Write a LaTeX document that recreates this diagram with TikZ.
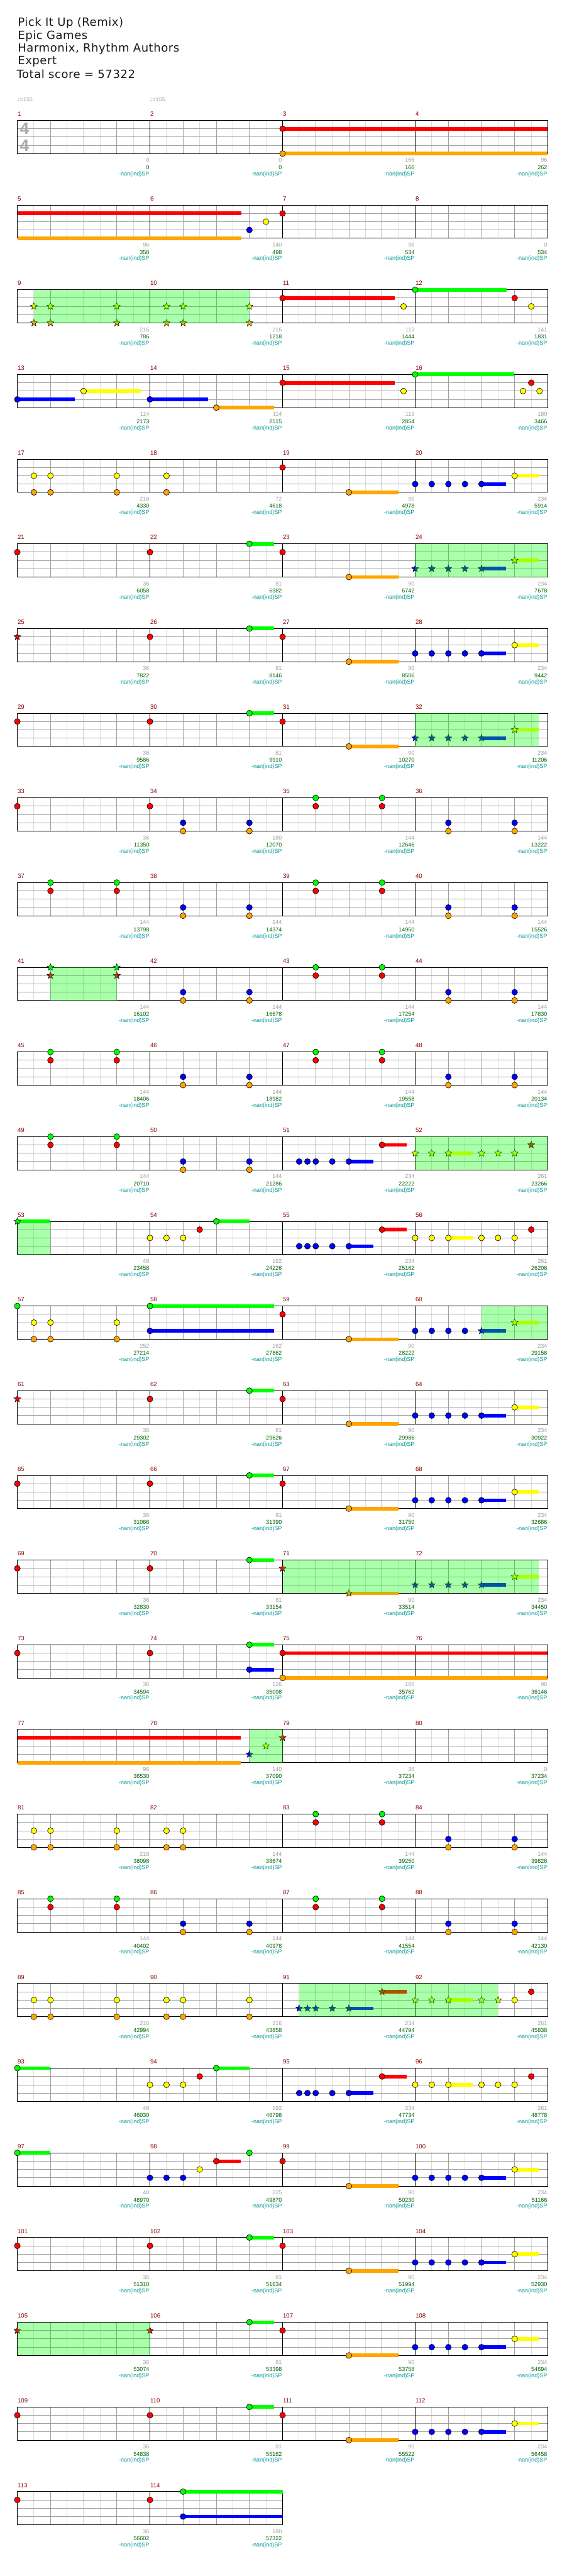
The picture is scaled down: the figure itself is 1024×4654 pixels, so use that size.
\documentclass[tikz,border=0pt]{standalone}
\usepackage{fontspec}
\setmainfont{DejaVu Sans}
\newfontfamily\chartfont{Liberation Sans}
\newfontfamily\symfont{DejaVu Sans}
\newfontfamily\headfont[LetterSpace=3]{DejaVu Sans}
\usetikzlibrary{shapes.geometric}

\definecolor{nG}{RGB}{0,255,0}
\definecolor{nR}{RGB}{255,0,0}
\definecolor{nY}{RGB}{255,255,0}
\definecolor{nB}{RGB}{0,0,255}
\definecolor{nO}{RGB}{255,165,0}
\definecolor{barred}{RGB}{139,0,0}
\definecolor{ptsgray}{RGB}{160,160,160}
\definecolor{totgreen}{RGB}{0,100,0}
\definecolor{spteal}{RGB}{0,150,150}
\definecolor{gridgray}{RGB}{160,160,160}
\definecolor{gridlight}{RGB}{220,220,220}
\definecolor{sigray}{RGB}{170,170,170}

% beat width and lane heights
\def\bw{59.93}
\def\laneG{0}\def\laneR{15}\def\laneY{30}\def\laneB{45}\def\laneO{60}
\newcommand{\lane}[1]{\csname lane#1\endcsname}

\newcommand{\notehead}[2]{\draw[notedot, fill=n#1] ({\bw*#2},\lane{#1}) circle[radius=5.3pt];}
\newcommand{\starhead}[2]{\node[starnote, fill=n#1] at ({\bw*#2},\lane{#1}) {};}
\newcommand{\noteset}[2]{\foreach \p in {#2} {\notehead{#1}{\p}}}
\newcommand{\starset}[2]{\foreach \p in {#2} {\starhead{#1}{\p}}}
\newcommand{\sustain}[3]{\draw[sustainbar, n#1] ({\bw*#2},\lane{#1}) -- ({\bw*#3},\lane{#1});}
\newcommand{\starzone}[2]{\fill[spfill] ({\bw*#1},0) rectangle ({\bw*#2},60);}

% grid, bar numbers and scores of one row
\newcommand{\staff}[3]{%
  \pgfmathtruncatemacro\neighth{8*#2-1}
  \pgfmathtruncatemacro\nbeat{4*#2-1}
  \pgfmathsetmacro\staffend{4*\bw*#2}
  \foreach \e in {1,...,\neighth} \draw[halfline] ({\e*\bw/2},0) -- ({\e*\bw/2},60);
  \foreach \b in {1,...,\nbeat} \draw[beatline] ({\b*\bw},0) -- ({\b*\bw},60);
  \foreach \l in {15,30,45} \draw[beatline] (0,\l) -- (\staffend,\l);
  \foreach \m in {1,...,#2} \draw[barline] ({(\m-1)*4*\bw},0) -- ({(\m-1)*4*\bw},60);
  \draw[barline] (0,0) rectangle (\staffend,60);
  \foreach \pts/\tot [count=\i] in {#3} {
    \pgfmathtruncatemacro\mnum{4*(#1-1)+\i}
    \node[barnum] (bar\mnum) at ({(\i-1)*4*\bw+0.4},-11.5) {\mnum};
    \node[ptsnum] (pts\mnum) at ({\i*4*\bw-1},72) {\pts};
    \node[totnum] (tot\mnum) at ({\i*4*\bw-1},85) {\tot};
    \node[spnum] (sp\mnum) at ({\i*4*\bw-1},97) {-nan(ind)SP};
  }}

\begin{document}
\begin{tikzpicture}[
  x=1pt, y=-1pt,
  rowat/.style={shift={(31.3,{217.5+153*(#1-1)})}},
  titletext/.style={anchor=west, inner sep=0pt, text=black!90, font=\headfont\fontsize{20.5}{20}\selectfont},
  tempo/.style={anchor=west, inner sep=0pt, text=ptsgray, font=\chartfont\fontsize{10.3}{10}\selectfont},
  timesig/.style={inner sep=0pt, text=sigray, font=\chartfont\bfseries\fontsize{30}{30}\selectfont},
  notedot/.style={draw=black, line width=0.7pt},
  starnote/.style={star, star points=5, star point ratio=2.3, minimum size=13pt, inner sep=0pt, draw=black, line width=0.6pt},
  sustainbar/.style={line width=6.6pt},
  spfill/.style={fill=nG, fill opacity=0.333},
  halfline/.style={draw=gridlight, line width=1pt},
  beatline/.style={draw=gridgray, line width=1pt},
  barline/.style={draw=black, line width=1pt},
  barnum/.style={anchor=west, inner sep=0pt, text=barred, font=\chartfont\fontsize{11}{11}\selectfont},
  ptsnum/.style={anchor=east, inner sep=0pt, text=ptsgray, font=\chartfont\fontsize{10.3}{10}\selectfont},
  totnum/.style={anchor=east, inner sep=0pt, text=totgreen, font=\chartfont\fontsize{10.3}{10}\selectfont},
  spnum/.style={anchor=east, inner sep=0pt, text=spteal, font=\chartfont\fontsize{10.3}{10}\selectfont}
]
  \useasboundingbox[fill=white] (0,0) rectangle (1024,4654);

  % song header
  \node[titletext] (song) at (32,42) {Pick It Up (Remix)};
  \node[titletext] (artist) at (32,65) {Epic Games};
  \node[titletext] (charter) at (32,88) {Harmonix, Rhythm Authors};
  \node[titletext] (level) at (32,111) {Expert};
  \node[titletext] (total) at (30,134) {Total score = 57322};

  % bars 1-4
  \begin{scope}[rowat=1]
    \staff{1}{4}{0/0, 0/0, 166/166, 96/262}
    \node[timesig] (sigtop) at (13,15) {4};
    \node[timesig] (sigbot) at (13,45) {4};
    \node[tempo] (tempo1) at (-0.6,-37.5) {{\symfont ♩}=155};
    \node[tempo] (tempo2) at ({4*\bw-0.6},-37.5) {{\symfont ♩}=155};
    \sustain{R}{8}{16} \sustain{O}{8}{16}
    \noteset{R}{8} \noteset{O}{8}
  \end{scope}

  % bars 5-8
  \begin{scope}[rowat=2]
    \staff{2}{4}{96/358, 140/498, 36/534, 0/534}
    \sustain{R}{0}{6.75} \sustain{O}{0}{6.75}
    \noteset{B}{7} \noteset{Y}{7.5} \noteset{R}{8}
  \end{scope}

  % bars 9-12
  \begin{scope}[rowat=3]
    \staff{3}{4}{216/786, 216/1218, 113/1444, 141/1831}
    \sustain{R}{8}{11.38} \sustain{G}{12}{14.75}
    \starset{Y}{0.5,1,3,4.5,5,7} \starset{O}{0.5,1,3,4.5,5,7}
    \noteset{R}{8,15} \noteset{Y}{11.65,15.5} \noteset{G}{12}
    \starzone{0.5}{7}
  \end{scope}

  % bars 13-16
  \begin{scope}[rowat=4]
    \staff{4}{4}{114/2173, 114/2515, 113/2854, 180/3466}
    \sustain{B}{0}{1.73} \sustain{Y}{2}{3.73} \sustain{B}{4}{5.75}
    \sustain{O}{6}{7.74} \sustain{R}{8}{11.39} \sustain{G}{12}{14.98}
    \noteset{B}{0,4} \noteset{Y}{2,11.65,15.25,15.75} \noteset{O}{6}
    \noteset{R}{8,15.5} \noteset{G}{12}
  \end{scope}

  % bars 17-20
  \begin{scope}[rowat=5]
    \staff{5}{4}{216/4330, 72/4618, 90/4978, 234/5914}
    \sustain{O}{10}{11.49} \sustain{B}{14}{14.74} \sustain{Y}{15}{15.72}
    \noteset{Y}{0.5,1,3,4.5,15} \noteset{O}{0.5,1,3,4.5,10} \noteset{R}{8}
    \noteset{B}{12,12.5,13,13.5,14}
  \end{scope}

  % bars 21-24
  \begin{scope}[rowat=6]
    \staff{6}{4}{36/6058, 81/6382, 90/6742, 234/7678}
    \sustain{G}{7}{7.74} \sustain{O}{10}{11.49} \sustain{B}{14}{14.74} \sustain{Y}{15}{15.72}
    \noteset{R}{0,4,8} \noteset{G}{7} \noteset{O}{10}
    \starset{B}{12,12.5,13,13.5,14} \starset{Y}{15}
    \starzone{12}{16}
  \end{scope}

  % bars 25-28
  \begin{scope}[rowat=7]
    \staff{7}{4}{36/7822, 81/8146, 90/8506, 234/9442}
    \sustain{G}{7}{7.74} \sustain{O}{10}{11.49} \sustain{B}{14}{14.74} \sustain{Y}{15}{15.72}
    \starset{R}{0} \noteset{R}{4,8} \noteset{G}{7} \noteset{O}{10}
    \noteset{B}{12,12.5,13,13.5,14} \noteset{Y}{15}
  \end{scope}

  % bars 29-32
  \begin{scope}[rowat=8]
    \staff{8}{4}{36/9586, 81/9910, 90/10270, 234/11206}
    \sustain{G}{7}{7.74} \sustain{O}{10}{11.49} \sustain{B}{14}{14.74} \sustain{Y}{15}{15.72}
    \noteset{R}{0,4,8} \noteset{G}{7} \noteset{O}{10}
    \starset{B}{12,12.5,13,13.5,14} \starset{Y}{15}
    \starzone{12}{15.72}
  \end{scope}

  % bars 33-36
  \begin{scope}[rowat=9]
    \staff{9}{4}{36/11350, 180/12070, 144/12646, 144/13222}
    \noteset{R}{0,4,9,11} \noteset{G}{9,11}
    \noteset{B}{5,7,13,15} \noteset{O}{5,7,13,15}
  \end{scope}

  % bars 37-40
  \begin{scope}[rowat=10]
    \staff{10}{4}{144/13798, 144/14374, 144/14950, 144/15526}
    \noteset{G}{1,3,9,11} \noteset{R}{1,3,9,11}
    \noteset{B}{5,7,13,15} \noteset{O}{5,7,13,15}
  \end{scope}

  % bars 41-44
  \begin{scope}[rowat=11]
    \staff{11}{4}{144/16102, 144/16678, 144/17254, 144/17830}
    \starset{G}{1,3} \starset{R}{1,3}
    \noteset{G}{9,11} \noteset{R}{9,11}
    \noteset{B}{5,7,13,15} \noteset{O}{5,7,13,15}
    \starzone{1}{3}
  \end{scope}

  % bars 45-48
  \begin{scope}[rowat=12]
    \staff{12}{4}{144/18406, 144/18982, 144/19558, 144/20134}
    \noteset{G}{1,3,9,11} \noteset{R}{1,3,9,11}
    \noteset{B}{5,7,13,15} \noteset{O}{5,7,13,15}
  \end{scope}

  % bars 49-52
  \begin{scope}[rowat=13]
    \staff{13}{4}{144/20710, 144/21286, 234/22222, 261/23266}
    \sustain{B}{10}{10.74} \sustain{R}{11}{11.74} \sustain{Y}{13}{13.74}
    \noteset{G}{1,3} \noteset{R}{1,3,11} \noteset{O}{5,7}
    \noteset{B}{5,7,8.5,8.75,9,9.5,10}
    \starset{Y}{12,12.5,13,14,14.5,15} \starset{R}{15.5}
    \starzone{12}{16}
  \end{scope}

  % bars 53-56
  \begin{scope}[rowat=14]
    \staff{14}{4}{48/23458, 192/24226, 234/25162, 261/26206}
    \sustain{G}{0}{1} \sustain{G}{6}{7} \sustain{B}{10}{10.74}
    \sustain{R}{11}{11.74} \sustain{Y}{13}{13.74}
    \starset{G}{0} \noteset{G}{6}
    \noteset{Y}{4,4.5,5,12,12.5,13,14,14.5,15} \noteset{R}{5.5,11,15.5}
    \noteset{B}{8.5,8.75,9,9.5,10}
    \starzone{0}{1}
  \end{scope}

  % bars 57-60
  \begin{scope}[rowat=15]
    \staff{15}{4}{252/27214, 162/27862, 90/28222, 234/29158}
    \sustain{G}{4}{7.74} \sustain{B}{4}{7.74} \sustain{O}{10}{11.49}
    \sustain{B}{14}{14.74} \sustain{Y}{15}{15.72}
    \noteset{G}{0,4} \noteset{Y}{0.5,1,3} \noteset{O}{0.5,1,3,10}
    \noteset{B}{4,12,12.5,13,13.5} \noteset{R}{8}
    \starset{B}{14} \starset{Y}{15}
    \starzone{14}{16}
  \end{scope}

  % bars 61-64
  \begin{scope}[rowat=16]
    \staff{16}{4}{36/29302, 81/29626, 90/29986, 234/30922}
    \sustain{G}{7}{7.74} \sustain{O}{10}{11.49} \sustain{B}{14}{14.74} \sustain{Y}{15}{15.72}
    \starset{R}{0} \noteset{R}{4,8} \noteset{G}{7} \noteset{O}{10}
    \noteset{B}{12,12.5,13,13.5,14} \noteset{Y}{15}
  \end{scope}

  % bars 65-68
  \begin{scope}[rowat=17]
    \staff{17}{4}{36/31066, 81/31390, 90/31750, 234/32686}
    \sustain{G}{7}{7.74} \sustain{O}{10}{11.49} \sustain{B}{14}{14.74} \sustain{Y}{15}{15.72}
    \noteset{R}{0,4,8} \noteset{G}{7} \noteset{O}{10}
    \noteset{B}{12,12.5,13,13.5,14} \noteset{Y}{15}
  \end{scope}

  % bars 69-72
  \begin{scope}[rowat=18]
    \staff{18}{4}{36/32830, 81/33154, 90/33514, 234/34450}
    \sustain{G}{7}{7.74} \sustain{O}{10}{11.49} \sustain{B}{14}{14.74} \sustain{Y}{15}{15.72}
    \noteset{R}{0,4} \noteset{G}{7}
    \starset{R}{8} \starset{O}{10} \starset{B}{12,12.5,13,13.5,14} \starset{Y}{15}
    \starzone{8}{15.72}
  \end{scope}

  % bars 73-76
  \begin{scope}[rowat=19]
    \staff{19}{4}{36/34594, 126/35098, 166/35762, 96/36146}
    \sustain{G}{7}{7.74} \sustain{B}{7}{7.74} \sustain{R}{8}{16} \sustain{O}{8}{16}
    \noteset{R}{0,4,8} \noteset{G}{7} \noteset{B}{7} \noteset{O}{8}
  \end{scope}

  % bars 77-80
  \begin{scope}[rowat=20]
    \staff{20}{4}{96/36530, 140/37090, 36/37234, 0/37234}
    \sustain{R}{0}{6.74} \sustain{O}{0}{6.74}
    \starset{B}{7} \starset{Y}{7.5} \starset{R}{8}
    \starzone{7}{8}
  \end{scope}

  % bars 81-84
  \begin{scope}[rowat=21]
    \staff{21}{4}{216/38098, 144/38674, 144/39250, 144/39826}
    \noteset{Y}{0.5,1,3,4.5,5} \noteset{O}{0.5,1,3,4.5,5,13,15}
    \noteset{G}{9,11} \noteset{R}{9,11} \noteset{B}{13,15}
  \end{scope}

  % bars 85-88
  \begin{scope}[rowat=22]
    \staff{22}{4}{144/40402, 144/40978, 144/41554, 144/42130}
    \noteset{G}{1,3,9,11} \noteset{R}{1,3,9,11}
    \noteset{B}{5,7,13,15} \noteset{O}{5,7,13,15}
  \end{scope}

  % bars 89-92
  \begin{scope}[rowat=23]
    \staff{23}{4}{216/42994, 216/43858, 234/44794, 261/45838}
    \sustain{B}{10}{10.74} \sustain{R}{11}{11.74} \sustain{Y}{13}{13.74}
    \noteset{Y}{0.5,1,3,4.5,5,7,15} \noteset{O}{0.5,1,3,4.5,5,7} \noteset{R}{15.5}
    \starset{B}{8.5,8.75,9,9.5,10} \starset{R}{11} \starset{Y}{12,12.5,13,14,14.5}
    \starzone{8.5}{14.5}
  \end{scope}

  % bars 93-96
  \begin{scope}[rowat=24]
    \staff{24}{4}{48/46030, 192/46798, 234/47734, 261/48778}
    \sustain{G}{0}{1} \sustain{G}{6}{7} \sustain{B}{10}{10.74}
    \sustain{R}{11}{11.74} \sustain{Y}{13}{13.74}
    \noteset{G}{0,6}
    \noteset{Y}{4,4.5,5,12,12.5,13,14,14.5,15} \noteset{R}{5.5,11,15.5}
    \noteset{B}{8.5,8.75,9,9.5,10}
  \end{scope}

  % bars 97-100
  \begin{scope}[rowat=25]
    \staff{25}{4}{48/48970, 225/49870, 90/50230, 234/51166}
    \sustain{G}{0}{1} \sustain{R}{6}{6.74} \sustain{O}{10}{11.49}
    \sustain{B}{14}{14.74} \sustain{Y}{15}{15.72}
    \noteset{G}{0,7} \noteset{B}{4,4.5,5,12,12.5,13,13.5,14}
    \noteset{Y}{5.5,15} \noteset{R}{6,8} \noteset{O}{10}
  \end{scope}

  % bars 101-104
  \begin{scope}[rowat=26]
    \staff{26}{4}{36/51310, 81/51634, 90/51994, 234/52930}
    \sustain{G}{7}{7.74} \sustain{O}{10}{11.49} \sustain{B}{14}{14.74} \sustain{Y}{15}{15.72}
    \noteset{R}{0,4,8} \noteset{G}{7} \noteset{O}{10}
    \noteset{B}{12,12.5,13,13.5,14} \noteset{Y}{15}
  \end{scope}

  % bars 105-108
  \begin{scope}[rowat=27]
    \staff{27}{4}{36/53074, 81/53398, 90/53758, 234/54694}
    \sustain{G}{7}{7.74} \sustain{O}{10}{11.49} \sustain{B}{14}{14.74} \sustain{Y}{15}{15.72}
    \starset{R}{0,4} \noteset{R}{8} \noteset{G}{7} \noteset{O}{10}
    \noteset{B}{12,12.5,13,13.5,14} \noteset{Y}{15}
    \starzone{0}{4}
  \end{scope}

  % bars 109-112
  \begin{scope}[rowat=28]
    \staff{28}{4}{36/54838, 81/55162, 90/55522, 234/56458}
    \sustain{G}{7}{7.74} \sustain{O}{10}{11.49} \sustain{B}{14}{14.74} \sustain{Y}{15}{15.72}
    \noteset{R}{0,4,8} \noteset{G}{7} \noteset{O}{10}
    \noteset{B}{12,12.5,13,13.5,14} \noteset{Y}{15}
  \end{scope}

  % bars 113-114
  \begin{scope}[rowat=29]
    \staff{29}{2}{36/56602, 180/57322}
    \sustain{G}{5}{8} \sustain{B}{5}{8}
    \noteset{R}{0,4} \noteset{G}{5} \noteset{B}{5}
  \end{scope}
\end{tikzpicture}
\end{document}
